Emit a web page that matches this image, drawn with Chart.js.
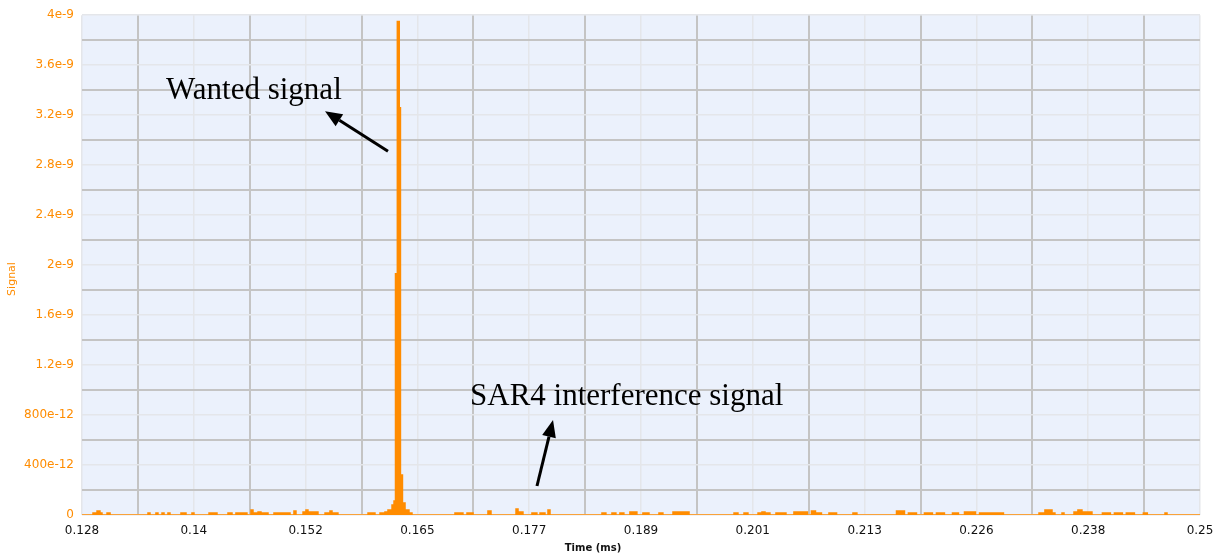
<!DOCTYPE html>
<html>
<head>
<meta charset="utf-8">
<script src="https://cdn.jsdelivr.net/npm/chart.js@4/dist/chart.umd.min.js"></script>
<style>
  html, body { margin: 0; background: #fff; }
  #wrap { width: 1216px; height: 555px; position: relative; }
</style>
</head>
<body>
<div id="wrap"><canvas id="signalChart"></canvas></div>
<script>
// change points: from each time on, the signal holds this value (units of 1e-12)
const timeMs = [
  0.12800, 0.12920, 0.12964, 0.12996, 0.13018, 0.13073, 0.13106, 0.13520, 0.13542, 0.13607,
  0.13629, 0.13673, 0.13695, 0.13738, 0.13760, 0.13880, 0.13935, 0.14000, 0.14022, 0.14186,
  0.14273, 0.14393, 0.14437, 0.14480, 0.14600, 0.14644, 0.14666, 0.14721, 0.14753, 0.14830,
  0.14895, 0.15070, 0.15113, 0.15135, 0.15212, 0.15244, 0.15266, 0.15375, 0.15452, 0.15506,
  0.15528, 0.15593, 0.15921, 0.15997, 0.16052, 0.16106, 0.16139, 0.16183, 0.16205, 0.16221,
  0.16241, 0.16262, 0.16275, 0.16297, 0.16325, 0.16368, 0.16401, 0.16870, 0.16957, 0.17001,
  0.17067, 0.17230, 0.17263, 0.17536, 0.17558, 0.17612, 0.17710, 0.17764, 0.17798, 0.17852,
  0.17885, 0.17907, 0.18474, 0.18517, 0.18583, 0.18626, 0.18670, 0.18713, 0.18779, 0.18855,
  0.18921, 0.18987, 0.19096, 0.19139, 0.19249, 0.19424, 0.19915, 0.19958, 0.20024, 0.20067,
  0.20177, 0.20220, 0.20253, 0.20307, 0.20373, 0.20482, 0.20569, 0.20716, 0.20760, 0.20804,
  0.20869, 0.20951, 0.21034, 0.21213, 0.21256, 0.21688, 0.21775, 0.21818, 0.21906, 0.21993,
  0.22080, 0.22124, 0.22211, 0.22299, 0.22364, 0.22430, 0.22550, 0.22594, 0.22855, 0.23243,
  0.23308, 0.23385, 0.23417, 0.23494, 0.23516, 0.23625, 0.23668, 0.23712, 0.23821, 0.23935,
  0.24022, 0.24066, 0.24153, 0.24196, 0.24284, 0.24382, 0.24425, 0.24618, 0.24640, 0.25000
];
const signalPico = [
  0, 16, 32, 16, 0, 16, 0, 16, 0, 16,
  0, 16, 0, 16, 0, 16, 0, 16, 0, 16,
  0, 16, 0, 16, 0, 40, 16, 24, 16, 0,
  16, 0, 32, 0, 24, 40, 24, 0, 16, 32,
  16, 0, 16, 0, 16, 24, 40, 80, 112, 1930,
  3950, 3260, 320, 96, 40, 16, 0, 16, 0, 16,
  0, 32, 0, 48, 24, 0, 16, 0, 16, 0,
  40, 0, 16, 0, 16, 0, 16, 0, 24, 0,
  16, 0, 16, 0, 24, 0, 16, 0, 16, 0,
  16, 24, 16, 0, 16, 0, 24, 0, 32, 16,
  0, 16, 0, 16, 0, 32, 0, 16, 0, 16,
  0, 16, 0, 16, 0, 24, 0, 16, 0, 16,
  40, 16, 0, 16, 0, 24, 40, 24, 0, 16,
  0, 16, 0, 16, 0, 16, 0, 16, 0, 0
];

const xTickLabels = ['0.128', '0.14', '0.152', '0.165', '0.177', '0.189', '0.201', '0.213', '0.226', '0.238', '0.25'];
const yTickLabels = ['0', '400e-12', '800e-12', '1.2e-9', '1.6e-9', '2e-9', '2.4e-9', '2.8e-9', '3.2e-9', '3.6e-9', '4e-9'];

// annotation texts and arrows, in data units
const notes = [
  { text: 'Wanted signal', x: 0.13717, y: 3328 },
  { text: 'SAR4 interference signal', x: 0.17034, y: 880 }
];
const arrows = [
  { from: [0.16139, 2912], to: [0.15452, 3232] },
  { from: [0.17765, 232], to: [0.17940, 760] }
];

const orange = '#ff8c00';
const gridDark = '#c4c4c4';
const gridLight = '#e4e6ea';

const plotBackground = {
  id: 'plotBackground',
  beforeDraw(chart) {
    const { ctx, chartArea: a } = chart;
    ctx.save();
    ctx.fillStyle = '#ebf1fc';
    ctx.fillRect(a.left, a.top, a.right - a.left, a.bottom - a.top);
    ctx.restore();
  }
};

const extras = {
  id: 'extras',
  afterDraw(chart) {
    const { ctx } = chart;
    const xs = chart.scales.x, ys = chart.scales.y;
    ctx.save();
    // axis titles
    ctx.fillStyle = '#111';
    ctx.font = 'bold 10px "DejaVu Sans"';
    ctx.textAlign = 'center';
    ctx.textBaseline = 'middle';
    ctx.fillText('Time (ms)', 593, 548);
    ctx.save();
    ctx.translate(12, 279);
    ctx.rotate(-Math.PI / 2);
    ctx.fillStyle = orange;
    ctx.font = '11px "DejaVu Sans"';
    ctx.fillText('Signal', 0, 0);
    ctx.restore();

    // notes
    ctx.fillStyle = '#000';
    ctx.font = '31px "Liberation Serif"';
    ctx.textAlign = 'left';
    ctx.textBaseline = 'alphabetic';
    notes.forEach(n => ctx.fillText(n.text, xs.getPixelForValue(n.x), ys.getPixelForValue(n.y)));

    // arrows
    ctx.strokeStyle = '#000';
    ctx.lineWidth = 3;
    arrows.forEach(a => {
      const x1 = xs.getPixelForValue(a.from[0]), y1 = ys.getPixelForValue(a.from[1]);
      const x2 = xs.getPixelForValue(a.to[0]), y2 = ys.getPixelForValue(a.to[1]);
      const ang = Math.atan2(y2 - y1, x2 - x1);
      const len = 17, half = 7;
      const bx = x2 - len * Math.cos(ang), by = y2 - len * Math.sin(ang);
      ctx.beginPath();
      ctx.moveTo(x1, y1);
      ctx.lineTo(bx, by);
      ctx.stroke();
      ctx.beginPath();
      ctx.moveTo(x2, y2);
      ctx.lineTo(bx + half * Math.sin(ang), by - half * Math.cos(ang));
      ctx.lineTo(bx - half * Math.sin(ang), by + half * Math.cos(ang));
      ctx.closePath();
      ctx.fillStyle = '#000';
      ctx.fill();
    });
    ctx.restore();
  }
};

const ctx = document.getElementById('signalChart').getContext('2d');
new Chart(ctx, {
  type: 'line',
  data: {
    datasets: [{
      label: 'Signal',
      data: timeMs.map((t, i) => ({ x: t, y: signalPico[i] })),
      borderColor: orange,
      backgroundColor: orange,
      borderWidth: 1.5,
      fill: 'origin',
      stepped: true,
      pointRadius: 0
    }]
  },
  options: {
    responsive: true,
    maintainAspectRatio: false,
    animation: false,
    layout: { padding: { top: 15, right: 16, bottom: 0, left: 0 } },
    plugins: { legend: { display: false }, tooltip: { enabled: false } },
    scales: {
      x: {
        type: 'linear',
        min: 0.128,
        max: 0.25,
        afterFit: s => { s.height = 40; s.paddingLeft = 0; s.paddingRight = 0; },
        border: { display: false },
        grid: {
          drawTicks: false,
          color: c => (c.index % 2 ? gridDark : gridLight),
          lineWidth: c => (c.index % 2 ? 2 : 1.5)
        },
        ticks: {
          stepSize: 0.0061,
          autoSkip: false,
          maxRotation: 0,
          padding: 9,
          color: '#111',
          font: { family: 'DejaVu Sans', size: 12 },
          callback: (v, i) => (i % 2 ? '' : xTickLabels[i / 2])
        }
      },
      y: {
        min: 0,
        max: 4000,
        afterFit: s => { s.width = 82; },
        border: { display: false },
        grid: {
          drawTicks: false,
          color: c => (c.index % 2 ? gridDark : gridLight),
          lineWidth: c => (c.index % 2 ? 2 : 1.5)
        },
        ticks: {
          stepSize: 200,
          autoSkip: false,
          padding: 8,
          color: orange,
          font: { family: 'DejaVu Sans', size: 12 },
          callback: (v, i) => (i % 2 ? '' : yTickLabels[i / 2])
        }
      }
    }
  },
  plugins: [plotBackground, extras]
});
</script>
</body>
</html>
